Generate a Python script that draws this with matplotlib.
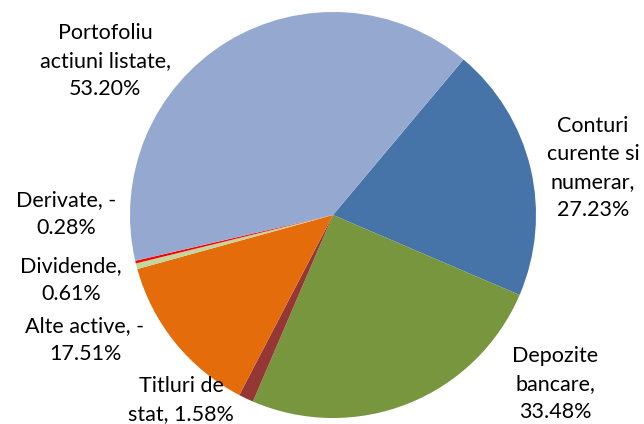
import matplotlib.pyplot as plt

# slice data, in clockwise order starting at Conturi
labels = ['Conturi\ncurente si\nnumerar,\n27.23%',
          'Depozite\nbancare,\n33.48%',
          'Titluri de\nstat, 1.58%',
          'Alte active, -\n17.51%',
          'Dividende,\n0.61%',
          'Derivate, -\n0.28%',
          'Portofoliu\nactiuni listate,\n53.20%']
values = [27.23, 33.48, 1.58, -17.51, 0.61, -0.28, 53.20]
colors = ['#4674A9', '#77963D', '#953735', '#E46C0A', '#C3D69B', '#FF0000', '#95A9D0']

# label anchor positions (pixels)
label_pos = [(593, 168), (555, 384), (181, 400), (85, 340), (71, 280), (66, 214), (105, 61)]

plt.rcParams['font.family'] = ['Lato', 'DejaVu Sans']

fig = plt.figure(figsize=(6.44, 4.24), dpi=100)
W, H = 644, 424
ax = fig.add_axes([(333 - 203) / W, (H - 215 - 203) / H, 406 / W, 406 / H])

ax.pie([abs(v) for v in values], colors=colors, startangle=50, counterclock=False,
       radius=1, wedgeprops=dict(linewidth=0))
ax.set_xlim(-1, 1)
ax.set_ylim(-1, 1)
ax.set_aspect('equal')
ax.axis('off')

for lab, (x, y) in zip(labels, label_pos):
    fig.text(x / W, 1 - y / H, lab, ha='center', va='center', fontsize=15.5,
             linespacing=1.5, color='black')

fig.savefig('out.png', dpi=100)
